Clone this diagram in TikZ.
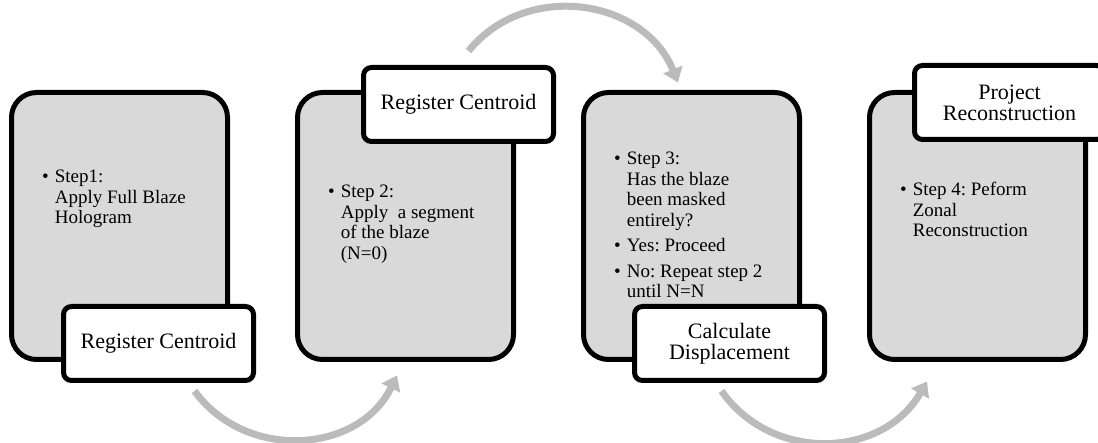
\documentclass[tikz,border=0pt]{standalone}
\usepackage{fontspec}
\setmainfont{Liberation Serif}
\usepackage{tikz}
\usetikzlibrary{positioning,arrows.meta}

\definecolor{boxgray}{RGB}{217,217,217}
\definecolor{arrowgray}{RGB}{187,187,187}
\frenchspacing

% bullet list set as a small table: bullet column + text column
\newcommand{\steplist}[1]{{\fontsize{19}{20.5}\selectfont
  \begin{tabular}[t]{@{}l@{\hspace{6pt}}l@{}}#1\end{tabular}}}

\begin{document}
\begin{tikzpicture}[
  x=1pt, y=1pt,
  node distance=65pt,
  stepbox/.style={draw, line width=5pt, rounded corners=25pt, fill=boxgray, minimum width=216pt, minimum height=267pt, inner sep=0pt},
  tag/.style={draw, line width=5pt, rounded corners=8pt, fill=white, minimum width=190pt, minimum height=74pt, inner sep=0pt, align=center, font=\fontsize{22}{21}\selectfont},
  body/.style={anchor=base west, inner sep=0pt, align=left},
  flow/.style={draw=arrowgray, line width=7pt, -{Triangle[width=20pt,length=14pt]}},
]
\useasboundingbox (0,0) rectangle (1098,-443);

% Step boxes
\node[stepbox] (box1) at (119.5,-226) {};
\node[stepbox, right=of box1] (box2) {};
\node[stepbox, right=of box2] (box3) {};
\node[stepbox, right=of box3] (box4) {};

% Box texts
\node[body] (txt1) at ([shift={(33,-93)}]box1.north west) {\steplist{%
  \textbullet & Step1:\\ & Apply Full Blaze\\ & Hologram}};
\node[body] (txt2) at ([shift={(33,-108)}]box2.north west) {\steplist{%
  \textbullet & Step 2:\\ & Apply~ a segment\\ & of the blaze\\ & (N=0)}};
\node[body] (txt3) at ([shift={(33,-75)}]box3.north west) {\steplist{%
  \textbullet & Step 3:\\ & Has the blaze\\ & been masked\\ & entirely?\\[5pt]
  \textbullet & Yes: Proceed\\[5pt]
  \textbullet & No: Repeat step 2\\ & until N=N}};
\node[body] (txt4) at ([shift={(33,-106)}]box4.north west) {\steplist{%
  \textbullet & Step 4: Peform\\ & Zonal\\ & Reconstruction}};

% Tags
\node[tag, anchor=south east] (reg1) at ([shift={(26,-21)}]box1.south east) {Register Centroid};
\node[tag, anchor=north east] (reg2) at ([shift={(40,25)}]box2.north east) {Register Centroid};
\node[tag, anchor=south east] (calc) at ([shift={(25,-21)}]box3.south east) {Calculate\\Displacement};
\node[tag, anchor=north east] (proj) at ([shift={(19,27)}]box4.north east) {Project\\Reconstruction};

% Curved arrows
\coordinate (a1s) at ([shift={(36,-8)}]reg1.south);
\coordinate (a1e) at ([shift={(-8.5,-13.5)}]box2.south);
\draw[flow] (a1s) to[out=-54, in=244, looseness=1.1] (a1e);

\coordinate (a2s) at ([shift={(10,14)}]reg2.north);
\coordinate (a2e) at ([shift={(-13.5,7.5)}]box3.north);
\draw[flow] (a2s) to[out=51, in=112, looseness=1.1] (a2e);

\coordinate (a3s) at ([shift={(-8,-8)}]calc.south);
\coordinate (a3e) at ([shift={(-50.5,-19.5)}]box4.south);
\draw[flow] (a3s) to[out=-55, in=240, looseness=1.1] (a3e);
\end{tikzpicture}
\end{document}
